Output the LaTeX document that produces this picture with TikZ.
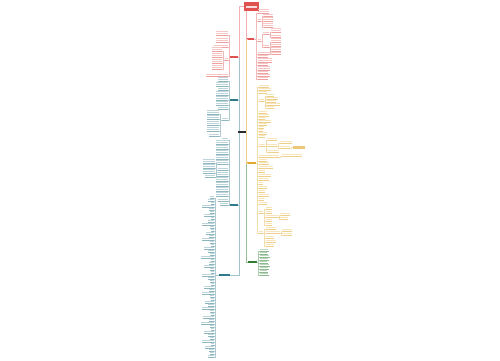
\documentclass[tikz,border=0pt]{standalone}
\definecolor{cR}{HTML}{E0524F}
\definecolor{cT}{HTML}{2F7A8A}
\definecolor{cY}{HTML}{E0AA2E}
\definecolor{cG}{HTML}{2E7D32}
\definecolor{cK}{HTML}{2B2B2B}
\tikzset{
  lfnode/.style={inner sep=0pt, outer sep=0pt, minimum height=0pt},
  bnode/.style={inner sep=0pt, outer sep=0pt, minimum height=2pt, draw=none},
  trunk/.style={line width=0.5pt},
}
% leaf drawn right of x
\newcommand\lfR[6]{%
  \node[lfnode, minimum width=#4pt, anchor=south west] (#1) at (#2,#3) {};%
  \foreach \k in {1,...,#5}{\fill[#6!32] ([shift={(0.4,{-0.9-(\k-1)*2.1})}]#1.south west) rectangle ++({#4-0.8},-1.0);}%
  \draw[#6!55, line width=0.3pt] (#1.south west) -- (#1.south east);%
}
% leaf drawn left of x
\newcommand\lfL[6]{%
  \node[lfnode, minimum width=#4pt, anchor=south east] (#1) at (#2,#3) {};%
  \foreach \k in {1,...,#5}{\fill[#6!32] ([shift={(0.4,{-0.9-(\k-1)*2.1})}]#1.south west) rectangle ++({#4-0.8},-1.0);}%
  \draw[#6!55, line width=0.3pt] (#1.south west) -- (#1.south east);%
}
\newcommand\grpR[6]{%
  \foreach \yy/\ww/\nn [count=\i] in {#6}{%
    \lfR{#2\i}{#3}{\yy}{\ww}{\nn}{#4}%
    \draw[#4!40, line width=0.35pt] (#1) -- ++(#5,0) |- (#2\i.south west);%
  }%
}
\newcommand\grpL[6]{%
  \foreach \yy/\ww/\nn [count=\i] in {#6}{%
    \lfL{#2\i}{#3}{\yy}{\ww}{\nn}{#4}%
    \draw[#4!40, line width=0.35pt] (#1) -- ++(-#5,0) |- (#2\i.south east);%
  }%
}
\begin{document}
\begin{tikzpicture}[x=1pt,y=-1pt]
\path[use as bounding box, fill=white] (0,0) rectangle (500,360);

% root and first-level nodes
\node[bnode, fill=cR, minimum width=15pt, minimum height=9pt] (root) at (251.5,6.5) {};
\fill[white!80!cR] (246,5.6) rectangle (257,7.6);
\node[bnode, fill=cR] (r0) [minimum width=7pt] at (250.5,39) {};
\node[bnode, fill=cR] (rl) [minimum width=8pt] at (234,57) {};
\node[bnode, fill=cT] (t1) [minimum width=8pt] at (234,100) {};
\node[bnode, fill=cK] (dk) [minimum width=8pt] at (242,132) {};
\node[bnode, fill=cY] (y0) [minimum width=9pt] at (251.5,163) {};
\node[bnode, fill=cT] (t2) [minimum width=8pt] at (234,205) {};
\node[bnode, fill=cT] (t3) [minimum width=11pt] at (224,275) {};
\node[bnode, fill=cG] (g0) [minimum width=9pt] at (252,262) {};

% left trunk
\draw[trunk, cT!45] (root.west) -| ([xshift=10pt]t3.east) -- (t3.east);
\draw[trunk, cT!45] (root.west) -| ([xshift=1.5pt]t2.east) -- (t2.east);
\draw[trunk, cT!45] (root.west) -| ([xshift=1.5pt]dk.west);
\draw[trunk, cT!45] (root.west) -| ([xshift=1.5pt]t1.east) -- (t1.east);
\draw[trunk, cR!45] (root.west) -| ([xshift=1.5pt]rl.east) -- (rl.east);
% right trunk
\draw[trunk, cG!50] ([xshift=-5pt]root.south) |- (g0.west);
\draw[trunk, cY!55] ([xshift=-5pt]root.south) |- (y0.west);
\draw[trunk, cR!45] ([xshift=-5pt]root.south) |- (r0.west);
% redraw first-level nodes on top
\fill[cK] (dk.north west) rectangle (dk.south east);
\fill[cT] (t1.north west) rectangle (t1.south east);
\fill[cT] (t2.north west) rectangle (t2.south east);

% red, right
\grpR{r0.east}{ra}{258}{cR}{2}{13/11/2, 21/3/1, 41/3/1, 54/12/1, 57/10/1, 62/14/2, 65/10/1, 70/12/2, 73/10/1, 76/12/1, 79/10/1}
\grpR{ra2.south east}{rb}{263}{cR}{1.5}{16/10/1, 21/10/2, 27/10/2}
\grpR{ra3.south east}{rc}{263}{cR}{1.5}{34/6/1, 47/6/1}
\grpR{rc1.south east}{rd}{271}{cR}{1.5}{32/10/2, 37/10/1}
\grpR{rc2.south east}{re}{271}{cR}{1.5}{42/10/2, 46/10/1, 51/10/2, 54/10/1}

% red, left
\grpL{rl.west}{la}{228}{cR}{1}{35/12/2, 42/12/2, 47/14/1, 60/3/1, 76/22/1}
\grpL{la4.south west}{lb}{222}{cR}{1.5}{51/10/2, 57/10/2, 63/10/2, 69/10/2}

% teal 1
\grpL{t1.west}{ta}{228}{cT}{1}{81/10/2, 86/12/2, 90/10/1, 95/12/2, 100/12/2, 105/12/2, 109/10/1, 120/6/1}
\grpL{ta8.south west}{tb}{219}{cT}{1.5}{114/12/2, 119/12/2, 125/12/2, 131/12/2, 136/10/1}

% teal 2
\grpL{t2.west}{tc}{228}{cT}{1}{140/6/1, 144/12/2, 149/12/2, 154/12/2, 159/12/2, 164/12/2, 170/10/1, 176/12/2, 181/12/2, 186/12/2, 191/12/2, 196/12/2, 201/10/1, 205/8/1}
\grpL{tc7.south west}{td}{215}{cT}{1.5}{163/12/2, 168/12/2, 173/12/2, 177/10/1}

% teal 3
\grpL{t3.west}{te}{214}{cT}{3.5}{198/4/1, 201/6/1, 204/3/1, 207/12/1, 210/5/1, 213/4/1, 216/10/1, 219/3/1, 222/6/1, 225/12/1, 228/4/1, 231/3/1, 234/8/1, 237/5/1, 240/12/1, 243/4/1, 246/3/1, 249/10/1, 252/6/1, 255/4/1, 258/13/1, 261/3/1, 264/5/1, 267/10/1, 270/4/1, 273/3/1, 276/12/1, 279/6/1, 282/4/1, 285/3/1, 288/10/1, 291/5/1, 294/12/1, 297/4/1, 300/3/1, 303/9/1, 306/6/1, 309/12/1, 312/4/1, 315/3/1, 318/11/1, 321/5/1, 324/13/1, 327/4/1, 330/3/1, 333/10/1, 336/6/1, 339/4/1, 342/12/1, 345/3/1, 348/9/1, 351/5/1, 354/4/1, 357/6/1}

% yellow
\grpR{y0.east}{ya}{259}{cY}{1.5}{87/10/1, 90/12/1, 93/8/1, 101/5/1, 113/8/1, 116/10/1, 119/6/1, 122/12/1, 125/8/1, 128/5/1, 131/4/1, 134/8/1, 137/6/1, 146/6/1, 157/20/1, 161/8/1, 164/10/1, 168/14/1, 172/6/1, 176/12/1, 180/10/1, 184/4/1, 188/8/1, 192/6/1, 196/10/1, 200/5/1, 204/8/1, 213/4/1, 233/4/1}
\grpR{ya4.south east}{yb}{266}{cY}{1.5}{96/8/1, 99/12/1, 102/10/1, 105/14/1, 108/8/1}
\grpR{ya14.south east}{yc}{267}{cY}{1.5}{140/10/1, 146/10/1, 152/12/1}
\grpR{yc2.south east}{yd}{280}{cY}{1.5}{143/12/1, 148/10/1}
\node[inner sep=0pt, fill=cY!65, minimum width=12pt, minimum height=3pt, anchor=west] (hl) at (293,147.5) {};
\draw[cY!40, line width=0.35pt] (yd2.south east) -- ++(1.5,0) |- (hl.west);
\grpR{ya15.south east}{ye}{282}{cY}{1.5}{156/20/1}
\grpR{ya28.south east}{yf}{266}{cY}{1.5}{209/6/1, 213/6/1, 217/12/1, 221/6/1, 225/6/1}
\grpR{yf3.south east}{yh}{280}{cY}{1.5}{215/10/1, 219/8/1}
\grpR{ya29.south east}{yg}{266}{cY}{1.5}{229/10/1, 233/14/1, 238/8/1, 242/10/1, 246/8/1}
\grpR{yg2.south east}{yi}{282}{cY}{1.5}{231/10/1, 235/10/1}

% green
\grpR{g0.east}{ga}{259.5}{cG}{1.5}{251/9/1, 254/8/1, 257/10/1, 260/9/1, 263/8/1, 266/10/1, 269/9/1, 272/8/1, 275/9/1}
\end{tikzpicture}
\end{document}
